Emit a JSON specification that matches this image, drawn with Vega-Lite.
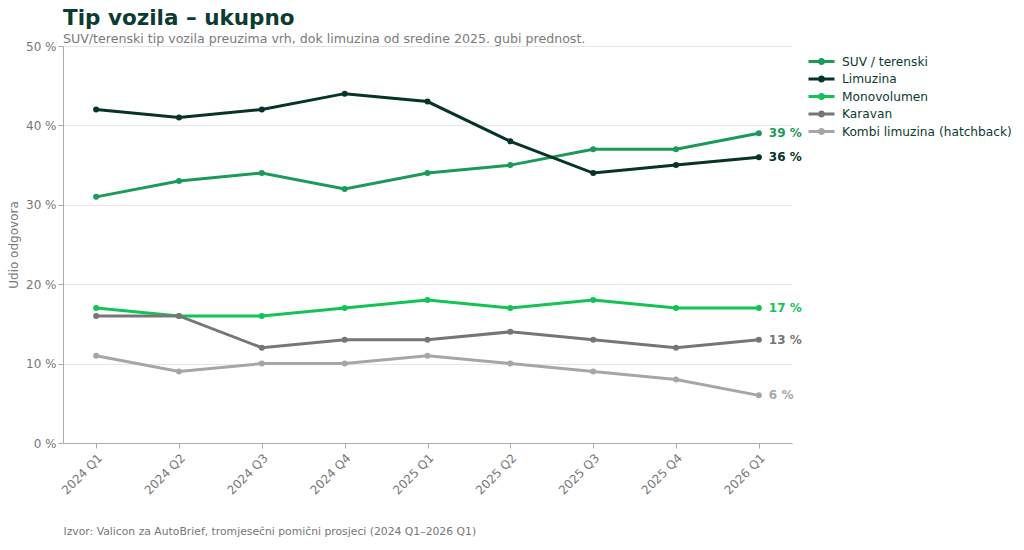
{
  "$schema": "https://vega.github.io/schema/vega-lite/v6.json",
  "width": 729,
  "height": 397,
  "padding": {"left": 7, "top": 7, "right": 5, "bottom": 5},
  "background": "white",
  "config": {
    "font": "DejaVu Sans",
    "view": {"stroke": null},
    "axis": {"labelColor": "#777777", "titleColor": "#777777", "domainColor": "#aaaaaa", "tickColor": "#aaaaaa", "labelFont": "DejaVu Sans", "titleFont": "DejaVu Sans"}
  },
  "title": {
    "text": "Tip vozila – ukupno",
    "subtitle": "SUV/terenski tip vozila preuzima vrh, dok limuzina od sredine 2025. gubi prednost.",
    "anchor": "start",
    "frame": "group",
    "fontSize": 21.5,
    "fontWeight": "bold",
    "color": "#0b3b32",
    "subtitleFontSize": 12.6,
    "subtitleColor": "#7a7a7a",
    "subtitlePadding": 4,
    "offset": -6
  },
  "data": {
    "values": [
      {"q": "2024 Q1", "s": "SUV / terenski", "v": 31},
      {"q": "2024 Q2", "s": "SUV / terenski", "v": 33},
      {"q": "2024 Q3", "s": "SUV / terenski", "v": 34},
      {"q": "2024 Q4", "s": "SUV / terenski", "v": 32},
      {"q": "2025 Q1", "s": "SUV / terenski", "v": 34},
      {"q": "2025 Q2", "s": "SUV / terenski", "v": 35},
      {"q": "2025 Q3", "s": "SUV / terenski", "v": 37},
      {"q": "2025 Q4", "s": "SUV / terenski", "v": 37},
      {"q": "2026 Q1", "s": "SUV / terenski", "v": 39},
      {"q": "2024 Q1", "s": "Limuzina", "v": 42},
      {"q": "2024 Q2", "s": "Limuzina", "v": 41},
      {"q": "2024 Q3", "s": "Limuzina", "v": 42},
      {"q": "2024 Q4", "s": "Limuzina", "v": 44},
      {"q": "2025 Q1", "s": "Limuzina", "v": 43},
      {"q": "2025 Q2", "s": "Limuzina", "v": 38},
      {"q": "2025 Q3", "s": "Limuzina", "v": 34},
      {"q": "2025 Q4", "s": "Limuzina", "v": 35},
      {"q": "2026 Q1", "s": "Limuzina", "v": 36},
      {"q": "2024 Q1", "s": "Monovolumen", "v": 17},
      {"q": "2024 Q2", "s": "Monovolumen", "v": 16},
      {"q": "2024 Q3", "s": "Monovolumen", "v": 16},
      {"q": "2024 Q4", "s": "Monovolumen", "v": 17},
      {"q": "2025 Q1", "s": "Monovolumen", "v": 18},
      {"q": "2025 Q2", "s": "Monovolumen", "v": 17},
      {"q": "2025 Q3", "s": "Monovolumen", "v": 18},
      {"q": "2025 Q4", "s": "Monovolumen", "v": 17},
      {"q": "2026 Q1", "s": "Monovolumen", "v": 17},
      {"q": "2024 Q1", "s": "Karavan", "v": 16},
      {"q": "2024 Q2", "s": "Karavan", "v": 16},
      {"q": "2024 Q3", "s": "Karavan", "v": 12},
      {"q": "2024 Q4", "s": "Karavan", "v": 13},
      {"q": "2025 Q1", "s": "Karavan", "v": 13},
      {"q": "2025 Q2", "s": "Karavan", "v": 14},
      {"q": "2025 Q3", "s": "Karavan", "v": 13},
      {"q": "2025 Q4", "s": "Karavan", "v": 12},
      {"q": "2026 Q1", "s": "Karavan", "v": 13},
      {"q": "2024 Q1", "s": "Kombi limuzina (hatchback)", "v": 11},
      {"q": "2024 Q2", "s": "Kombi limuzina (hatchback)", "v": 9},
      {"q": "2024 Q3", "s": "Kombi limuzina (hatchback)", "v": 10},
      {"q": "2024 Q4", "s": "Kombi limuzina (hatchback)", "v": 10},
      {"q": "2025 Q1", "s": "Kombi limuzina (hatchback)", "v": 11},
      {"q": "2025 Q2", "s": "Kombi limuzina (hatchback)", "v": 10},
      {"q": "2025 Q3", "s": "Kombi limuzina (hatchback)", "v": 9},
      {"q": "2025 Q4", "s": "Kombi limuzina (hatchback)", "v": 8},
      {"q": "2026 Q1", "s": "Kombi limuzina (hatchback)", "v": 6}
    ]
  },
  "encoding": {
    "x": {
      "field": "q", "type": "ordinal",
      "scale": {"type": "point", "padding": 0.4},
      "axis": {
        "labelAngle": -45, "labelAlign": "right", "labelBaseline": "top", "labelFontSize": 12,
        "labelPadding": 4, "tickSize": 5, "grid": false,
        "title": "Izvor: Valicon za AutoBrief, tromjesečni pomični prosjeci (2024 Q1–2026 Q1)",
        "titleAnchor": "start", "titleAlign": "left", "titleFontSize": 10.8, "titleFontWeight": "normal",
        "titleColor": "#777777", "titleY": 91, "titleX": 0, "titleBaseline": "alphabetic"
      }
    },
    "y": {
      "field": "v", "type": "quantitative",
      "scale": {"domain": [0, 50], "nice": false},
      "axis": {
        "values": [0, 10, 20, 30, 40, 50], "labelExpr": "datum.value + ' %'", "labelFontSize": 12,
        "gridColor": "#e6e6e6", "tickSize": 5, "title": "Udio odgovora", "titleFontSize": 12,
        "titleFontWeight": "normal", "titlePadding": 5
      }
    },
    "color": {
      "field": "s", "type": "nominal",
      "sort": ["SUV / terenski", "Limuzina", "Monovolumen", "Karavan", "Kombi limuzina (hatchback)"],
      "scale": {
        "domain": ["SUV / terenski", "Limuzina", "Monovolumen", "Karavan", "Kombi limuzina (hatchback)"],
        "range": ["#1b9a59", "#06332a", "#12c456", "#767676", "#a6a6a6"]
      },
      "legend": {
        "title": null, "orient": "none", "legendX": 752, "legendY": 9, "labelFontSize": 12.2, "labelColor": "#0b3b32",
        "labelLimit": 400,
        "symbolType": "M-2,-0.23H2V0.23H-2Z M0.55,0A0.55,0.55,0,1,1,-0.55,0A0.55,0.55,0,1,1,0.55,0Z",
        "symbolSize": 169, "symbolStrokeWidth": 0, "labelOffset": 14, "rowPadding": 4.5, "padding": 0,
        "encode": {"symbols": {"update": {"fill": {"scale": "color", "field": "value"}, "fillOpacity": {"value": 1}, "strokeWidth": {"value": 0}}}}
      }
    }
  },
  "layer": [
    {"mark": {"type": "line", "strokeWidth": 3}},
    {"mark": {"type": "point", "filled": true, "size": 36, "opacity": 1}},
    {
      "transform": [{"filter": "datum.q == '2026 Q1'"}],
      "mark": {"type": "text", "align": "left", "dx": 10, "fontWeight": "bold", "fontSize": 12, "baseline": "middle", "text": {"expr": "datum.v + ' %'"}}
    }
  ]
}
